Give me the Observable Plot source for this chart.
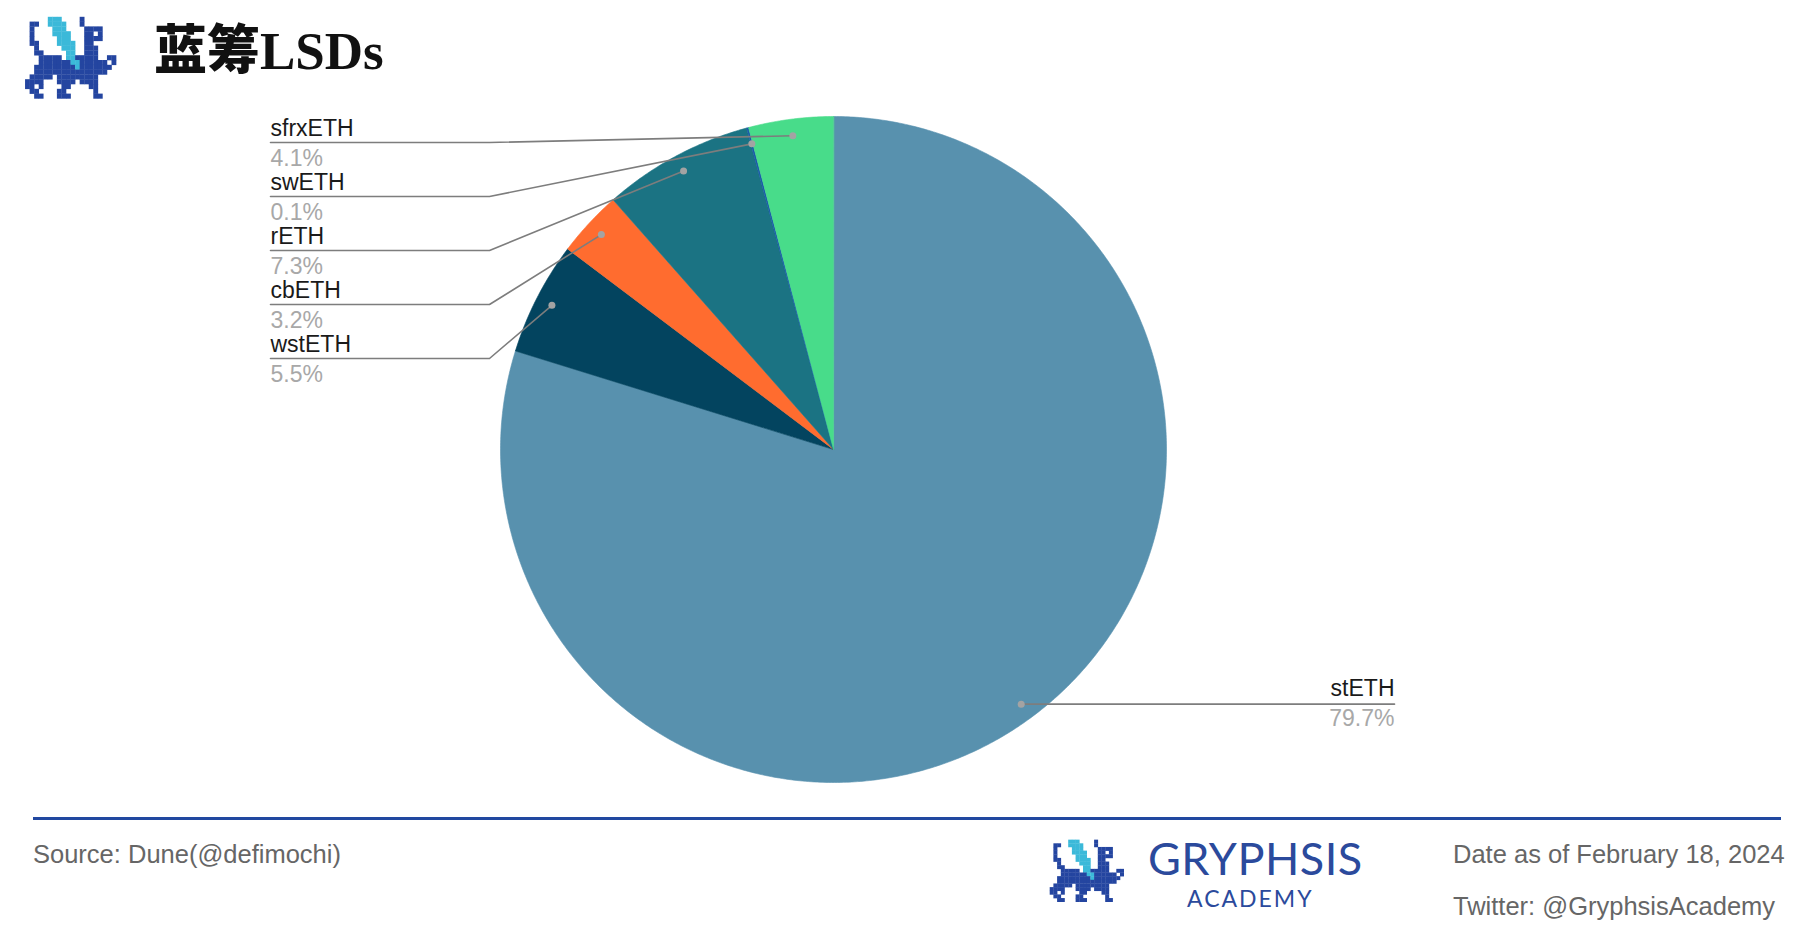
<!DOCTYPE html>
<html>
<head>
<meta charset="utf-8">
<script src="https://cdn.jsdelivr.net/npm/d3@7"></script>
<script src="https://cdn.jsdelivr.net/npm/@observablehq/plot@0.6"></script>
<style>
  html, body { margin: 0; padding: 0; background: #ffffff; }
  #page { position: relative; width: 1817px; height: 942px; overflow: hidden; background: #fff; font-family: "Liberation Sans", Arial, sans-serif; }
  #chart { position: absolute; left: 0; top: 0; }
  .abs { position: absolute; white-space: nowrap; }
  #title { left: 154px; top: 14px; font-size: 53px; font-weight: bold; color: #111; line-height: 64px; }
  #title .cjk { font-family: "Noto Sans CJK SC", sans-serif; font-weight: 900; }
  #title .lat { font-family: "Liberation Serif", "Times New Roman", serif; font-weight: bold; }
  #rule { left: 33px; top: 817px; width: 1748px; height: 3px; background: #2148A0; }
  .foot { font-size: 25.5px; color: #666; line-height: 30px; }
  #brand { left: 1148px; top: 837.5px; font-family: Lato, sans-serif; font-size: 45px; color: #2B4A9C; line-height: 40px; letter-spacing: 0.5px; }
  #academy { left: 1187px; top: 888px; font-family: Lato, sans-serif; font-size: 23px; color: #2B4A9C; line-height: 20px; letter-spacing: 2px; }
</style>
</head>
<body>
<div id="page">
  <div id="chart"></div>
  <svg id="logoTop" class="abs" style="left:0;top:0" width="140" height="110"></svg>
  <div id="title" class="abs"><span class="cjk">蓝筹</span><span class="lat">LSDs</span></div>
  <div id="rule" class="abs"></div>
  <div class="abs foot" style="left:33px;top:839px">Source: Dune(@defimochi)</div>
  <svg id="logoBot" class="abs" style="left:1030px;top:826px" width="110" height="90"></svg>
  <div id="brand" class="abs">GRYPHSIS</div>
  <div id="academy" class="abs">ACADEMY</div>
  <div class="abs foot" style="left:1453px;top:839px">Date as of February 18, 2024</div>
  <div class="abs foot" style="left:1453px;top:891px">Twitter: @GryphsisAcademy</div>
</div>
<script>
// ---- data ----
const names = ["stETH", "wstETH", "cbETH", "rETH", "swETH", "sfrxETH"];
const shares = [79.7, 5.5, 3.2, 7.3, 0.1, 4.1];
const pctLabels = ["79.7%", "5.5%", "3.2%", "7.3%", "0.1%", "4.1%"];
const colors = ["#5891AE", "#03445F", "#FF6C2F", "#1B7383", "#1A5CA8", "#48DC8A"];

// ---- layout ----
const W = 1817, H = 942, CX = 833, CY = 449, R = 333;
const px = v => (v - CX) / R;   // pixel -> data units (x)
const py = v => (v - CY) / R;   // pixel -> data units (y, downward)

const total = d3.sum(shares);
let acc = 0;
const slices = names.map((name, i) => {
  const a0 = acc / total * 2 * Math.PI;
  acc += shares[i];
  const a1 = acc / total * 2 * Math.PI;
  return {name, i, a0, a1, mid: (a0 + a1) / 2};
});

// polygon points for each slice (angle clockwise from 12 o'clock)
const slicePts = [];
for (const s of slices) {
  slicePts.push({name: s.name, x: 0, y: 0});
  const n = Math.max(2, Math.ceil((s.a1 - s.a0) / (Math.PI / 360)));
  for (let k = 0; k <= n; k++) {
    const a = s.a0 + (s.a1 - s.a0) * k / n;
    slicePts.push({name: s.name, x: Math.sin(a), y: -Math.cos(a)});
  }
}

// leader dots & lines
const dots = slices.map(s => ({name: s.name, x: 0.95 * Math.sin(s.mid), y: -0.95 * Math.cos(s.mid)}));
const leaders = [];
const labels = [];
slices.forEach((s, i) => {
  const d = dots[i];
  if (i === 0) {
    const lx = px(1394);
    leaders.push({name: s.name, x: d.x, y: d.y}, {name: s.name, x: lx, y: d.y});
    labels.push({name: s.name, pct: pctLabels[i], x: lx, y: d.y, side: "right"});
  } else {
    const k = names.length - 1 - i;
    const uy = py(142 + 54 * k);
    const lx = px(270), ex = px(489);
    leaders.push({name: s.name, x: lx, y: uy}, {name: s.name, x: ex, y: uy}, {name: s.name, x: d.x, y: d.y});
    labels.push({name: s.name, pct: pctLabels[i], x: lx, y: uy, side: "left"});
  }
});
const left = labels.filter(d => d.side === "left");
const right = labels.filter(d => d.side === "right");

const chart = Plot.plot({
  width: W,
  height: H,
  margin: 0,
  style: {background: "transparent", fontFamily: "'Liberation Sans', Arial, sans-serif"},
  x: {domain: [px(0), px(W)], range: [0, W], axis: null},
  y: {domain: [py(0), py(H)], range: [0, H], axis: null},
  color: {domain: names, range: colors},
  marks: [
    Plot.line(slicePts, {x: "x", y: "y", z: "name", fill: "name", stroke: "name", strokeWidth: 0.6, curve: "linear-closed"}),
    Plot.line(leaders, {x: "x", y: "y", z: "name", stroke: "#7d7d7d", strokeWidth: 1.6}),
    Plot.dot(dots, {x: "x", y: "y", r: 3.5, fill: "#a3a3a3", stroke: "none"}),
    Plot.text(left, {x: "x", y: "y", text: "name", textAnchor: "start", lineAnchor: "bottom", dy: -7, fontSize: 23, fill: "#1a1a1a"}),
    Plot.text(left, {x: "x", y: "y", text: "pct", textAnchor: "start", lineAnchor: "bottom", dy: 23, fontSize: 23, fill: "#a8a8a8"}),
    Plot.text(right, {x: "x", y: "y", text: "name", textAnchor: "end", lineAnchor: "bottom", dy: -8, fontSize: 23, fill: "#1a1a1a"}),
    Plot.text(right, {x: "x", y: "y", text: "pct", textAnchor: "end", lineAnchor: "bottom", dy: 22, fontSize: 23, fill: "#a8a8a8"})
  ]
});
document.getElementById("chart").appendChild(chart);

// ---- decorative pixel logo ----
const logoRows = [
  "......................",
  "......ccc....b........",
  "..bb..cccc...b........",
  "..b....ccc....bbbb....",
  "..b....cccc...bb.b....",
  "..b.....ccc...bbbb....",
  "..bb....cccc..bb......",
  "...b.....ccc..bbb.....",
  "...bb.....cc..bbb.....",
  "....bbbbb.ccbbbbb..bb.",
  "....bbbbbbbccbbbbbb.b.",
  "...bbbbbbbbbcbbbbbbb..",
  "...bbbbbbbbbbbbbbbb...",
  "..bbbbb.bbbbbbbbb.....",
  ".bbbb...bbbb.bbbb.....",
  ".bb.b....bb....bb.....",
  "..bb....bb......b.....",
  "...bb...bbb.....bb...."
];
function drawLogo(id, ox, oy, cw, ch) {
  const svg = d3.select(id);
  logoRows.forEach((row, r) => {
    [...row].forEach((t, c) => {
      if (t === ".") return;
      svg.append("rect").attr("x", ox + c * cw).attr("y", oy + r * ch)
        .attr("width", cw + 0.3).attr("height", ch + 0.3)
        .attr("fill", t === "c" ? "#3BB9D9" : "#2445A0");
    });
  });
}
drawLogo("#logoTop", 20.5, 12, 4.55, 4.8);
drawLogo("#logoBot", 16, 10, 3.7, 3.65);
</script>
</body>
</html>
